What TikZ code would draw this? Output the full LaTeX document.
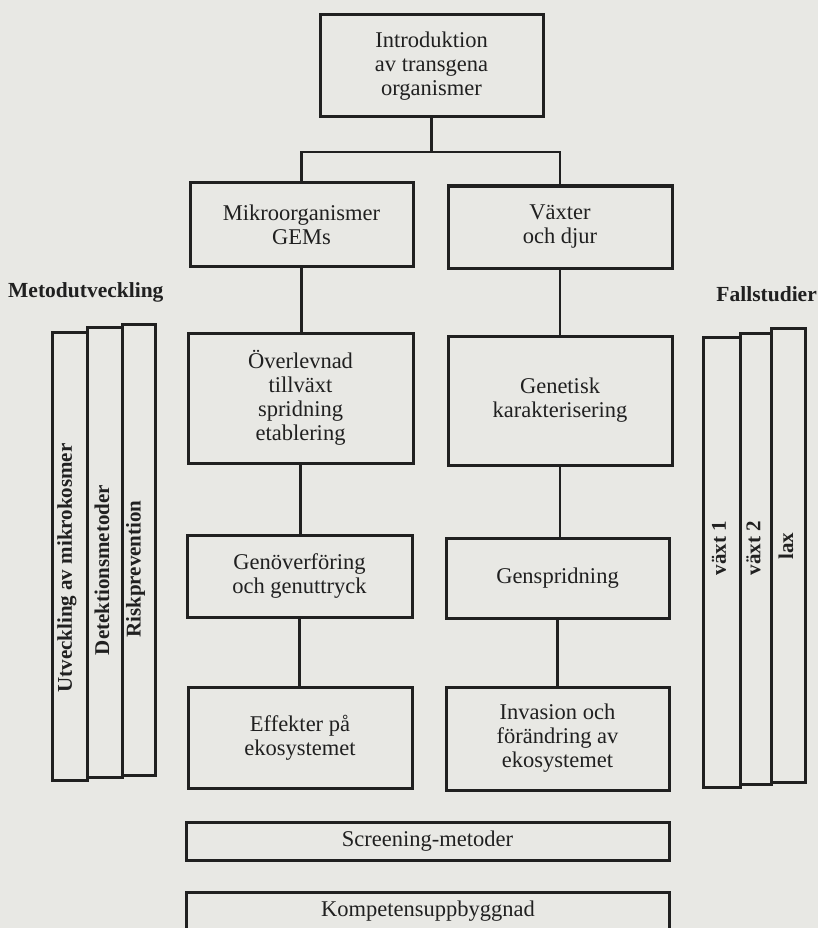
\documentclass[tikz,border=0pt]{standalone}
\usepackage{fontspec}
\setmainfont{Liberation Serif}
\definecolor{bg}{RGB}{232,232,228}
\definecolor{ink}{RGB}{32,32,32}
\begin{document}
\begin{tikzpicture}[x=1pt,y=-1pt,
  box/.style={draw=ink, line width=3pt, fill=bg, text=ink, align=center, inner sep=0pt,
    font=\fontsize{22.5}{24}\selectfont},
  boxtext/.style={text=ink, align=center, inner sep=0pt, font=\fontsize{22.5}{24}\selectfont},
  frame/.style={draw=ink, line width=3pt},
  link/.style={draw=ink, line width=2.2pt},
  col/.style={draw=ink, line width=3pt, fill=bg, inner sep=0pt},
  head/.style={text=ink, inner sep=0pt, font=\fontsize{21.5}{24}\bfseries\selectfont},
  vlab/.style={text=ink, inner sep=0pt, rotate=90, font=\fontsize{21}{24}\bfseries\selectfont}]
\useasboundingbox[fill=bg] (0,0) rectangle (818,928);

% top
\node[box, minimum width=223pt, minimum height=102pt] (intro) at (431.5,66) {Introduktion\\av transgena\\organismer};
\node[box, minimum width=223pt, minimum height=83pt] (mikro) at (301.5,224.5) {Mikroorganismer\\GEMs};
\node[box, minimum width=224pt, minimum height=82pt] (vaxter) at (560,227) {Växter\\och djur};

% middle
\node[box, minimum width=225pt, minimum height=130pt] (over) at (300.5,398) {Överlevnad\\tillväxt\\spridning\\etablering};
\node[box, minimum width=224pt, minimum height=129pt] (genet) at (560,400.5) {Genetisk\\karakterisering};
\node[box, minimum width=225pt, minimum height=82pt] (genov) at (299.5,576) {Genöverföring\\och genuttryck};
\node[box, minimum width=223pt, minimum height=80pt] (gensp) at (557.5,578) {Genspridning};
\node[box, minimum width=224pt, minimum height=101pt] (effek) at (300,737.5) {Effekter på\\ekosystemet};
\node[box, minimum width=223pt, minimum height=103pt] (invas) at (557.5,738.5) {Invasion och\\förändring av\\ekosystemet};

% bottom bars
\node[box, minimum width=483pt, minimum height=38pt] (screen) at (427.5,841) {Screening-metoder};
\node[boxtext, minimum width=482pt, minimum height=37pt] (komp) at (428,911.5) {Kompetensuppbyggnad};
\draw[frame] (komp.south west) -- (komp.north west) -- (komp.north east) -- (komp.south east);

% connectors
\coordinate (bus) at (431.5,152);
\draw[link] (intro.south) -- (intro.south |- bus);
\draw[link] (mikro.north) |- (vaxter.north |- bus) -- (vaxter.north);
\draw[link] (mikro.south) -- (mikro.south |- over.north);
\draw[link] (over.south) -- (over.south |- genov.north);
\draw[link] (genov.south) -- (genov.south |- effek.north);
\draw[link] (vaxter.south) -- (vaxter.south |- genet.north);
\draw[link] (genet.south) -- (genet.south |- gensp.north);
\draw[link] (gensp.south) -- (gensp.south |- invas.north);

% left stack
\node[head, anchor=base west] (metod) at (8,297) {Metodutveckling};
\node[col, minimum width=35pt, minimum height=448pt] (m1) at (69.5,556) {};
\node[col, minimum width=35pt, minimum height=450pt] (m2) at (104.5,552) {};
\node[col, minimum width=33pt, minimum height=451pt] (m3) at (138.5,549.5) {};
\node[vlab] (l1) at (67,568) {Utveckling av mikrokosmer};
\node[vlab] (l2) at (102,570) {Detektionsmetoder};
\node[vlab] (l3) at (135.5,569) {Riskprevention};

% right stack
\node[head, anchor=base east] (fall) at (817,301) {Fallstudier};
\node[col, minimum width=37pt, minimum height=450pt] (f1) at (721.5,562) {};
\node[col, minimum width=31pt, minimum height=451pt] (f2) at (755.5,558.5) {};
\node[col, minimum width=34pt, minimum height=454pt] (f3) at (788,555) {};
\node[vlab] (r1) at (719,548) {växt 1};
\node[vlab] (r2) at (753.5,548) {växt 2};
\node[vlab] (r3) at (786,546) {lax};
\end{tikzpicture}
\end{document}
